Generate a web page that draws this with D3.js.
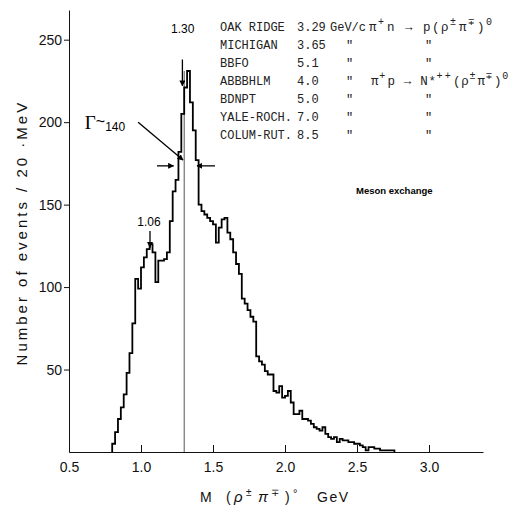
<!DOCTYPE html>
<html lang="en">
<head>
  <meta charset="UTF-8">
  <title>M(rho pi) mass spectrum</title>
  <script src="https://d3js.org/d3.v7.min.js"></script>
  <style>
    body { margin: 0; background: #fff; }
    .tick text { font-family: "Liberation Sans", Arial, sans-serif; }
    .mono { font-family: "Liberation Mono", "Courier New", monospace; font-size: 12px; fill: #222; }
  </style>
</head>
<body>
<div id="chart-container"></div>
<script>
  // low edge of each 20 MeV bin (GeV)
  const binLow = [
    0.80, 0.82, 0.84, 0.86, 0.88, 0.90, 0.92, 0.94, 0.96, 0.98,
    1.00, 1.02, 1.04, 1.06, 1.08, 1.10, 1.12, 1.14, 1.16, 1.18,
    1.20, 1.22, 1.24, 1.26, 1.28, 1.30, 1.32, 1.34, 1.36, 1.38,
    1.40, 1.42, 1.44, 1.46, 1.48, 1.50, 1.52, 1.54, 1.56, 1.58,
    1.60, 1.62, 1.64, 1.66, 1.68, 1.70, 1.72, 1.74, 1.76, 1.78,
    1.80, 1.82, 1.84, 1.86, 1.88, 1.90, 1.92, 1.94, 1.96, 1.98,
    2.00, 2.02, 2.04, 2.06, 2.08, 2.10, 2.12, 2.14, 2.16, 2.18,
    2.20, 2.22, 2.24, 2.26, 2.28, 2.30, 2.32, 2.34, 2.36, 2.38,
    2.40, 2.42, 2.44, 2.46, 2.48, 2.50, 2.52, 2.54, 2.56, 2.58,
    2.60, 2.62, 2.64, 2.66, 2.68, 2.70, 2.72, 2.74
  ];
  // events per bin
  const events = [
    5, 12, 20, 27, 35, 48, 60, 78, 105, 99,
    112, 118, 123, 126, 121, 103, 116, 116, 117, 121,
    140, 158, 165, 182, 205, 221, 231, 212, 195, 177,
    150, 146, 144, 142, 140, 138, 127, 136, 141, 142,
    133, 129, 121, 114, 108, 93, 90, 86, 82, 79,
    58, 55, 53, 49, 47, 47, 37, 36, 40, 33,
    34, 37, 30, 23, 23, 25, 20, 20, 19, 17,
    15, 14, 13, 15, 11, 9, 8, 9, 6, 8,
    7, 7, 6, 6, 5, 5, 4, 3, 1, 3,
    3, 2, 2, 1, 1, 1, 1, 1
  ];
  const binWidth = 0.02;

  const xTicks = [0.5, 1.0, 1.5, 2.0, 2.5, 3.0];
  const yTicks = [50, 100, 150, 200, 250];

  const experiments = ['OAK RIDGE', 'MICHIGAN', 'BBFO', 'ABBBHLM', 'BDNPT', 'YALE-ROCH.', 'COLUM-RUT.'];
  const beamMomenta = ['3.29', '3.65', '5.1', '4.0', '5.0', '7.0', '8.5'];
  // reactions typed one glyph per cell; 1 = raised
  const reactionPN = [['π',0],['+',1],['n',0],[' ',0],['→',0],[' ',0],['p',0],['(',0],['ρ',0],['±',1],['π',0],['∓',1],[')',0],['0',1]];
  const reactionPP = [['π',0],['+',1],['p',0],[' ',0],['→',0],[' ',0],['N',0],['*',0],['+',1],['+',1],['(',0],['ρ',0],['±',1],['π',0],['∓',1],[')',0],['0',1]];

  const width = 523, height = 512;

  const svg = d3.select('#chart-container')
    .append('svg')
    .attr('width', width)
    .attr('height', height);

  const x = d3.scaleLinear().domain([0.5, 3.375]).range([69, 483]);
  const y = d3.scaleLinear().domain([0, 268]).range([452, 10]);

  // axes
  const xAxis = d3.axisBottom(x)
    .tickValues(xTicks)
    .tickFormat(d3.format('.1f'))
    .tickSizeInner(-7)
    .tickSizeOuter(0)
    .tickPadding(10);
  const gx = svg.append('g')
    .attr('transform', `translate(0, ${y(0)})`)
    .call(xAxis);
  gx.selectAll('text').attr('font-size', 14).attr('fill', '#111');

  const yAxis = d3.axisLeft(y)
    .tickValues(yTicks)
    .tickSizeInner(5)
    .tickSizeOuter(0)
    .tickPadding(2);
  const gy = svg.append('g')
    .attr('transform', `translate(${x(0.5)}, 0)`)
    .call(yAxis);
  gy.selectAll('text').attr('font-size', 14).attr('fill', '#111');
  svg.selectAll('.domain, .tick line').attr('stroke', '#111');

  // thin line at 1.30
  svg.append('line')
    .attr('x1', x(1.30)).attr('x2', x(1.30))
    .attr('y1', y(0)).attr('y2', y(231))
    .attr('stroke', '#555')
    .attr('stroke-width', 1);

  // histogram outline
  const pts = [[binLow[0], 0]];
  binLow.forEach((m, i) => pts.push([m, events[i]]));
  pts.push([binLow[binLow.length - 1] + binWidth, 0]);

  const step = d3.line()
    .x(d => x(d[0]))
    .y(d => y(d[1]))
    .curve(d3.curveStepAfter);

  svg.append('path')
    .datum(pts)
    .attr('fill', 'none')
    .attr('stroke', '#000')
    .attr('stroke-width', 1.8)
    .attr('d', step);

  // arrowheads
  svg.append('defs').append('marker')
    .attr('id', 'head')
    .attr('viewBox', '0 0 10 10')
    .attr('refX', 9).attr('refY', 5)
    .attr('markerWidth', 6).attr('markerHeight', 6)
    .attr('markerUnits', 'userSpaceOnUse')
    .attr('orient', 'auto')
    .append('path')
    .attr('d', 'M0,0 L10,5 L0,10 z')
    .attr('fill', '#000');

  function arrow(m1, v1, m2, v2) {
    svg.append('line')
      .attr('x1', x(m1)).attr('y1', y(v1))
      .attr('x2', x(m2)).attr('y2', y(v2))
      .attr('stroke', '#000')
      .attr('stroke-width', 1.3)
      .attr('marker-end', 'url(#head)');
  }

  arrow(1.2875, 238, 1.2875, 222);
  arrow(1.0625, 134, 1.0625, 124);
  arrow(0.98, 200, 1.292, 177);
  arrow(1.111, 173.5, 1.226, 173.5);
  arrow(1.514, 173.5, 1.389, 173.5);

  const sans = '"Liberation Sans", Arial, sans-serif';
  svg.append('text')
    .attr('x', x(1.29)).attr('y', y(254))
    .attr('text-anchor', 'middle')
    .attr('font-family', sans).attr('font-size', 12)
    .text('1.30');
  svg.append('text')
    .attr('x', x(1.055)).attr('y', y(137))
    .attr('text-anchor', 'middle')
    .attr('font-family', sans).attr('font-size', 12)
    .text('1.06');

  const gam = svg.append('text')
    .attr('x', x(0.61)).attr('y', y(196));
  gam.append('tspan')
    .attr('font-family', '"Liberation Serif", serif').attr('font-size', 19)
    .text('Γ');
  gam.append('tspan')
    .attr('font-family', sans).attr('font-size', 16)
    .attr('dy', -2)
    .text('~');
  gam.append('tspan')
    .attr('font-family', sans).attr('font-size', 12)
    .attr('dy', 4)
    .text('140');

  // experiment list (typewriter)
  const rowY = [31, 49, 67, 85, 103, 121, 139];
  const list = svg.append('g').attr('class', 'mono');
  experiments.forEach((name, i) => {
    list.append('text').attr('x', 220).attr('y', rowY[i]).text(name);
    list.append('text').attr('x', 297).attr('y', rowY[i]).text(beamMomenta[i]);
    if (i > 0) {
      list.append('text').attr('x', 346).attr('y', rowY[i]).text('"');
      if (i !== 3) list.append('text').attr('x', 425).attr('y', rowY[i]).text('"');
    }
  });
  list.append('text').attr('x', 330).attr('y', rowY[0]).text('GeV/c');

  function reaction(x0, yp, cell, glyphs) {
    glyphs.forEach((g, i) => {
      list.append('text')
        .attr('x', x0 + i * cell)
        .attr('y', yp - (g[1] ? 6 : 0))
        .attr('font-size', g[1] ? 10 : 12.5)
        .text(g[0]);
    });
  }
  reaction(369, rowY[0], 9, reactionPN);
  reaction(371, rowY[3], 8.2, reactionPP);

  svg.append('text')
    .attr('x', 356).attr('y', 194)
    .attr('font-family', sans).attr('font-size', 9.5).attr('font-weight', 'bold')
    .text('Meson exchange');

  // axis titles
  svg.append('text')
    .attr('transform', `translate(27, ${y(133)}) rotate(-90)`)
    .attr('text-anchor', 'middle')
    .attr('font-family', sans).attr('font-size', 15)
    .attr('letter-spacing', 3)
    .attr('fill', '#111')
    .text('Number of events / 20 ·MeV');

  const xTitle = [['M', 200, 0, 14, 'normal'], ['(', 226, 0, 14, 'normal'], ['ρ', 234, 0, 15, 'italic'],
                  ['±', 246, -6, 10, 'normal'], ['π', 258, 0, 15, 'italic'], ['∓', 271, -6, 10, 'normal'],
                  [')', 285, 0, 14, 'normal'], ['°', 293, -5, 11, 'normal'], ['GeV', 317, 0, 14, 'normal']];
  xTitle.forEach(t => {
    svg.append('text')
      .attr('x', t[1]).attr('y', 502 + t[2])
      .attr('font-family', sans).attr('font-size', t[3])
      .attr('font-style', t[4])
      .attr('letter-spacing', 1.5)
      .attr('fill', '#111')
      .text(t[0]);
  });
</script>
</body>
</html>
